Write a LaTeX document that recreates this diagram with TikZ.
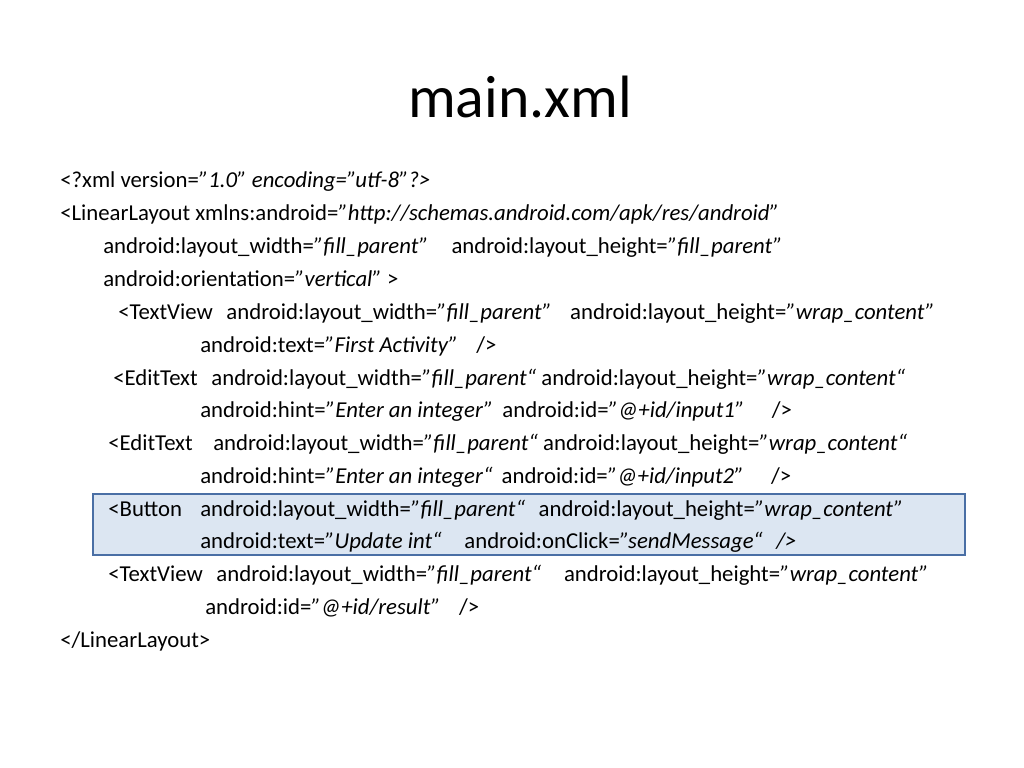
\documentclass[tikz,border=0pt]{standalone}
\usepackage{fontspec}
\setmainfont{Carlito}
\newcommand{\iv}[1]{\textit{#1}}
\newcommand{\qq}{\symbol{34}}
\begin{document}
\begin{tikzpicture}[x=0.703pt,y=-0.703pt,
  ln/.style={anchor=base west,inner sep=0pt,font=\fontsize{16}{18}\selectfont}]
\useasboundingbox (0,0) rectangle (1024,768);
\fill[white] (0,0) rectangle (1024,768);
\draw[fill={rgb,255:red,220;green,230;blue,242},draw={rgb,255:red,74;green,111;blue,165},line width=1.5pt] (93,494) rectangle (965,555);
\node[font=\fontsize{42}{46}\selectfont] (title) at (520,97) {main.xml};
\node[ln] (l1) at (60,187) {<?xml version=\iv{\qq1.0\qq{} encoding=\qq utf-8\qq?>}};
\node[ln] (l2) at (60,220) {<LinearLayout xmlns:android=\iv{\qq http://schemas.android.com/apk/res/android\qq}};
\node[ln] (l3) at (103,253) {android:layout\_width=\iv{\qq fill\_parent\qq}\hspace{1em}android:layout\_height=\iv{\qq fill\_parent\qq}};
\node[ln] (l4) at (103,286) {android:orientation=\iv{\qq vertical\qq} >};
\node[ln] (l5) at (118,319) {<TextView\hspace{0.6em}android:layout\_width=\iv{\qq fill\_parent\qq}\hspace{0.8em}android:layout\_height=\iv{\qq wrap\_content\qq}};
\node[ln] (l6) at (200,352) {android:text=\iv{\qq First Activity\qq}\hspace{0.8em}/>};
\node[ln] (l7) at (113,385) {<EditText\hspace{0.6em}android:layout\_width=\iv{\qq fill\_parent“} android:layout\_height=\iv{\qq wrap\_content“}};
\node[ln] (l8) at (200,417) {android:hint=\iv{\qq Enter an integer\qq}\hspace{0.4em}android:id=\iv{\qq @+id/input1”}\hspace{1.2em}/>};
\node[ln] (l9) at (108,450) {<EditText\hspace{0.9em}android:layout\_width=\iv{\qq fill\_parent“} android:layout\_height=\iv{\qq wrap\_content“}};
\node[ln] (l10) at (200,483) {android:hint=\iv{\qq Enter an integer“}\hspace{0.4em}android:id=\iv{\qq @+id/input2”}\hspace{1.2em}/>};
\node[ln] (l11) at (108,516) {<Button\hspace{0.8em}android:layout\_width=\iv{\qq fill\_parent“}\hspace{0.6em}android:layout\_height=\iv{\qq wrap\_content\qq}};
\node[ln] (l12) at (200,548) {android:text=\iv{\qq Update int“}\hspace{1em}android:onClick=\iv{\qq sendMessage“\hspace{0.6em}/>}};
\node[ln] (l13) at (108,581) {<TextView\hspace{0.6em}android:layout\_width=\iv{\qq fill\_parent“}\hspace{1em}android:layout\_height=\iv{\qq wrap\_content\qq}};
\node[ln] (l14) at (205,614) {android:id=\iv{\qq @+id/result”}\hspace{0.8em}/>};
\node[ln] (l15) at (60,647) {</LinearLayout>};
\end{tikzpicture}
\end{document}
